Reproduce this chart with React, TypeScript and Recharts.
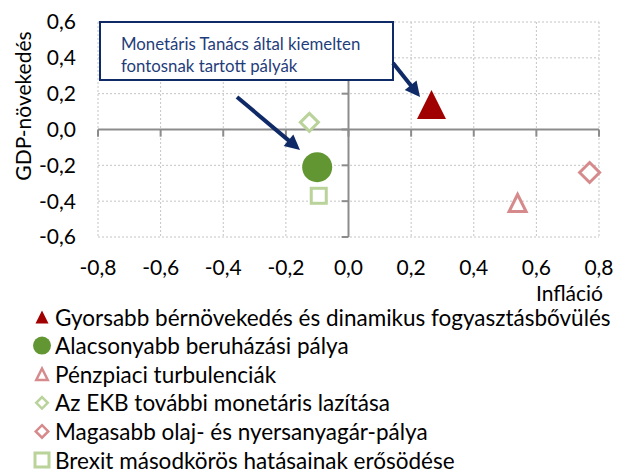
import { ScatterChart, Scatter, XAxis, YAxis, CartesianGrid, ReferenceLine } from 'recharts'

const seriesNames = [
  'Gyorsabb bérnövekedés és dinamikus fogyasztásbővülés',
  'Alacsonyabb beruházási pálya',
  'Pénzpiaci turbulenciák',
  'Az EKB további monetáris lazítása',
  'Magasabb olaj- és nyersanyagár-pálya',
  'Brexit másodkörös hatásainak erősödése',
]
const inflation = [0.265, -0.1, 0.54, -0.125, 0.77, -0.095]
const gdpGrowth = [0.14, -0.21, -0.41, 0.04, -0.24, -0.37]
const xTicks = [-0.8, -0.6, -0.4, -0.2, 0, 0.2, 0.4, 0.6, 0.8]
const yTicks = [-0.6, -0.4, -0.2, 0, 0.2, 0.4, 0.6]

const FONT = 'Lato, "Noto Sans", sans-serif'
const NAVY = '#0f2a66'
const AXIS = '#8c8c8c'

type Kind = 'triangle' | 'circle' | 'diamond' | 'square'
const STYLES: { kind: Kind; color: string; filled: boolean; size: number; legendSize: number }[] = [
  { kind: 'triangle', color: '#a00000', filled: true, size: 29, legendSize: 13 },
  { kind: 'circle', color: '#629632', filled: true, size: 30, legendSize: 18 },
  { kind: 'triangle', color: '#d68a8c', filled: false, size: 20, legendSize: 14 },
  { kind: 'diamond', color: '#b9d39a', filled: false, size: 21, legendSize: 14 },
  { kind: 'diamond', color: '#d68a8c', filled: false, size: 23, legendSize: 15 },
  { kind: 'square', color: '#b9d39a', filled: false, size: 18, legendSize: 17 },
]

function Marker({ cx, cy, kind, color, filled, size }: { cx: number; cy: number; kind: Kind; color: string; filled: boolean; size: number }) {
  const sw = filled ? 0 : size > 16 ? 3 : 2.5
  const s = size - sw
  const h = s / 2
  const common = { fill: filled ? color : '#fff', stroke: filled ? 'none' : color, strokeWidth: sw, strokeLinejoin: 'miter' as const }
  if (kind === 'circle') return <circle cx={cx} cy={cy} r={h} {...common} />
  if (kind === 'square') return <rect x={cx - h} y={cy - h} width={s} height={s} {...common} />
  if (kind === 'diamond') return <polygon points={`${cx},${cy - h} ${cx + h},${cy} ${cx},${cy + h} ${cx - h},${cy}`} {...common} />
  return <polygon points={`${cx},${cy - h} ${cx + h},${cy + h} ${cx - h},${cy + h}`} {...common} />
}

const fmt = (v: number) => v.toFixed(1).replace('.', ',').replace('-0,0', '0,0')

function Arrow({ x1, y1, x2, y2 }: { x1: number; y1: number; x2: number; y2: number }) {
  const len = Math.hypot(x2 - x1, y2 - y1)
  const ux = (x2 - x1) / len
  const uy = (y2 - y1) / len
  const head = 15
  const bx = x2 - ux * head
  const by = y2 - uy * head
  const w = 7.5
  return (
    <g>
      <line x1={x1} y1={y1} x2={bx + ux * 2} y2={by + uy * 2} stroke={NAVY} strokeWidth={4} />
      <polygon points={`${x2},${y2} ${bx - uy * w},${by + ux * w} ${bx + uy * w},${by - ux * w}`} fill={NAVY} />
    </g>
  )
}

export default function App() {
  return (
    <div style={{ position: 'fixed', left: 0, top: 0, width: 617, height: 472, background: '#fff', fontFamily: FONT }}>
      <ScatterChart width={617} height={472} margin={{ top: 22, right: 18, left: 0, bottom: 205 }}>
        <CartesianGrid stroke="#c4c4c4" strokeDasharray="2 2" />
        <XAxis
          type="number"
          dataKey="x"
          domain={[-0.8, 0.8]}
          ticks={xTicks}
          tickFormatter={fmt}
          axisLine={false}
          tickLine={false}
          tickSize={0}
          tickMargin={23}
          height={30}
          tick={{ fill: '#000', fontSize: 21, fontFamily: FONT }}
        />
        <YAxis
          type="number"
          dataKey="y"
          domain={[-0.6, 0.6]}
          ticks={yTicks}
          tickFormatter={fmt}
          axisLine={false}
          tickLine={false}
          tickSize={0}
          tickMargin={22}
          width={98}
          tick={{ fill: '#000', fontSize: 21, fontFamily: FONT }}
        />
        <ReferenceLine y={0} stroke={AXIS} strokeWidth={2} />
        <ReferenceLine x={0} stroke={AXIS} strokeWidth={2} />
        {yTicks.map((t) => (
          <ReferenceLine key={'yt' + t} segment={[{ x: -0.022, y: t }, { x: 0, y: t }]} stroke={AXIS} strokeWidth={2} />
        ))}
        {xTicks.map((t) => (
          <ReferenceLine key={'xt' + t} segment={[{ x: t, y: 0 }, { x: t, y: -0.04 }]} stroke={AXIS} strokeWidth={2} />
        ))}
        {seriesNames.map((name, i) => (
          <Scatter
            key={name}
            name={name}
            data={[{ x: inflation[i], y: gdpGrowth[i] }]}
            isAnimationActive={false}
            shape={(p: any) => <Marker cx={p.cx} cy={p.cy} {...STYLES[i]} />}
          />
        ))}
      </ScatterChart>

      <svg width={617} height={472} style={{ position: 'absolute', left: 0, top: 0, pointerEvents: 'none' }}>
        <text x={22} y={106} transform="rotate(-90 22 106)" textAnchor="middle" dominantBaseline="central" fontSize={21} fill="#000">
          GDP-növekedés
        </text>
        <text x={603} y={292} textAnchor="end" dominantBaseline="central" fontSize={21} fill="#000">
          Infláció
        </text>
        <rect x={100} y={22} width={293} height={58} fill="#fff" stroke={NAVY} strokeWidth={2} />
        <text x={121} y={43} dominantBaseline="central" fontSize={16.8} fill="#1f3d7a">Monetáris Tanács által kiemelten</text>
        <text x={121} y={65} dominantBaseline="central" fontSize={16.8} fill="#1f3d7a">fontosnak tartott pályák</text>
        <Arrow x1={237} y1={97} x2={300} y2={150} />
        <Arrow x1={393} y1={63} x2={420} y2={97} />
        {seriesNames.map((name, i) => {
          const cy = 317 + i * 28.6
          return (
            <g key={name}>
              <Marker cx={42} cy={cy} kind={STYLES[i].kind} color={STYLES[i].color} filled={STYLES[i].filled} size={STYLES[i].legendSize} />
              <text x={55} y={cy} dominantBaseline="central" fontSize={22.5} fill="#000">{name}</text>
            </g>
          )
        })}
      </svg>
    </div>
  )
}
